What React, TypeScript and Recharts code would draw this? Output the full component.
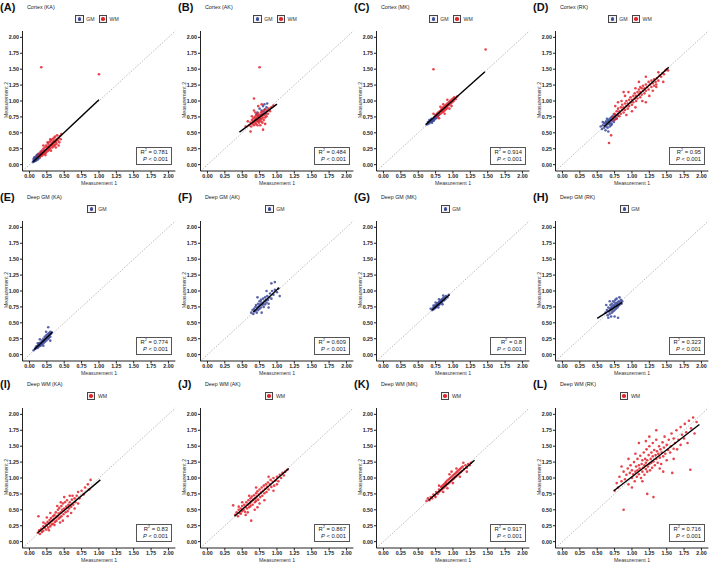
import { ScatterChart, Scatter, XAxis, YAxis, ReferenceLine } from "recharts"

type Pt = [number, number]

const GM_COLOR = "#3D4A9B"
const WM_COLOR = "#E3222C"
const FONT = "'Liberation Sans', Arial, sans-serif"

const axisTicks = [0, 0.25, 0.5, 0.75, 1, 1.25, 1.5, 1.75, 2]
const panelLabels = ["A", "B", "C", "D", "E", "F", "G", "H", "I", "J", "K", "L"]
const panelTitles = [
  "Cortex (KA)", "Cortex (AK)", "Cortex (MK)", "Cortex (RK)",
  "Deep GM (KA)", "Deep GM (AK)", "Deep GM (MK)", "Deep GM (RK)",
  "Deep WM (KA)", "Deep WM (AK)", "Deep WM (MK)", "Deep WM (RK)",
]
const r2Values = ["0.781", "0.484", "0.914", "0.95", "0.774", "0.609", "0.8", "0.323", "0.83", "0.867", "0.917", "0.716"]

// regression line end points
const fitLines: [Pt, Pt][] = [
  [[0.05, 0.04], [1.0, 1.02]],
  [[0.46, 0.51], [1.0, 0.95]],
  [[0.61, 0.63], [1.46, 1.46]],
  [[0.6, 0.6], [1.53, 1.53]],
  [[0.07, 0.08], [0.33, 0.35]],
  [[0.66, 0.67], [1.03, 1.05]],
  [[0.7, 0.7], [0.95, 0.94]],
  [[0.5, 0.57], [0.86, 0.82]],
  [[0.12, 0.14], [1.02, 0.97]],
  [[0.39, 0.4], [1.17, 1.15]],
  [[0.65, 0.65], [1.31, 1.28]],
  [[0.74, 0.8], [1.97, 1.84]],
]

const cortexKA_GM: Pt[] = [[0.05,0.04],[0.06,0.06],[0.07,0.05],[0.07,0.08],[0.08,0.07],[0.08,0.09],[0.09,0.08],[0.09,0.1],[0.1,0.09],[0.1,0.11],[0.11,0.1],[0.11,0.12],[0.12,0.11],[0.12,0.13],[0.13,0.12],[0.13,0.14],[0.14,0.13],[0.14,0.15],[0.15,0.14],[0.15,0.16],[0.16,0.15],[0.16,0.18],[0.17,0.16],[0.18,0.17],[0.19,0.19],[0.2,0.18],[0.06,0.09],[0.08,0.12],[0.1,0.14],[0.12,0.08],[0.14,0.1],[0.09,0.06],[0.11,0.15],[0.13,0.17],[0.17,0.2],[0.21,0.22],[0.07,0.11],[0.1,0.07],[0.15,0.12],[0.12,0.16]]
const cortexKA_WM: Pt[] = [[0.12,0.13],[0.14,0.17],[0.15,0.12],[0.16,0.2],[0.17,0.15],[0.18,0.22],[0.18,0.14],[0.19,0.18],[0.2,0.25],[0.2,0.16],[0.21,0.2],[0.22,0.27],[0.22,0.18],[0.23,0.22],[0.24,0.3],[0.24,0.19],[0.25,0.24],[0.25,0.28],[0.26,0.21],[0.27,0.26],[0.27,0.33],[0.28,0.23],[0.28,0.29],[0.29,0.36],[0.29,0.25],[0.3,0.31],[0.3,0.27],[0.31,0.38],[0.31,0.22],[0.32,0.3],[0.32,0.34],[0.33,0.27],[0.33,0.4],[0.34,0.32],[0.34,0.36],[0.35,0.29],[0.35,0.42],[0.36,0.35],[0.36,0.38],[0.37,0.31],[0.37,0.44],[0.38,0.36],[0.39,0.4],[0.39,0.33],[0.4,0.46],[0.41,0.38],[0.42,0.42],[0.43,0.35],[0.44,0.45],[0.46,0.48],[0.45,0.4],[0.26,0.35],[0.3,0.4],[0.23,0.15],[0.38,0.27],[0.42,0.3],[0.2,0.3],[0.17,1.53],[1.0,1.42]]

const cortexAK_GM: Pt[] = [[0.72,0.82],[0.75,0.88],[0.78,0.85],[0.8,0.92],[0.82,0.95],[0.85,0.9],[0.77,0.78],[0.74,0.76],[0.7,0.72],[0.83,0.87],[0.79,0.8],[0.68,0.7],[0.76,0.72],[0.81,0.83],[0.73,0.68],[0.86,0.96],[0.71,0.79],[0.84,0.8]]
const cortexAK_WM: Pt[] = [[0.6,0.62],[0.62,0.66],[0.63,0.6],[0.64,0.7],[0.65,0.64],[0.66,0.68],[0.66,0.73],[0.67,0.62],[0.68,0.66],[0.68,0.75],[0.69,0.7],[0.7,0.64],[0.7,0.78],[0.71,0.68],[0.71,0.73],[0.72,0.62],[0.72,0.76],[0.73,0.7],[0.73,0.8],[0.74,0.66],[0.74,0.74],[0.75,0.7],[0.75,0.78],[0.76,0.62],[0.76,0.74],[0.77,0.68],[0.77,0.82],[0.78,0.72],[0.78,0.77],[0.79,0.66],[0.79,0.84],[0.8,0.74],[0.8,0.79],[0.81,0.7],[0.82,0.78],[0.82,0.86],[0.83,0.74],[0.84,0.82],[0.85,0.76],[0.86,0.85],[0.87,0.8],[0.88,0.88],[0.9,0.84],[0.92,0.9],[0.95,0.93],[0.64,0.76],[0.69,0.82],[0.67,1.04],[0.58,0.68],[0.55,0.6],[0.83,0.64],[0.8,0.55],[0.62,0.52],[0.75,1.53],[0.78,0.95],[0.73,0.92],[0.67,0.85]]

const cortexMK_GM: Pt[] = [[0.62,0.63],[0.64,0.64],[0.65,0.66],[0.66,0.65],[0.67,0.68],[0.68,0.67],[0.68,0.7],[0.69,0.69],[0.7,0.68],[0.7,0.71],[0.71,0.7],[0.72,0.72],[0.72,0.69],[0.73,0.74],[0.74,0.72],[0.74,0.75],[0.75,0.74],[0.76,0.76],[0.76,0.73],[0.77,0.78],[0.78,0.76],[0.79,0.8],[0.8,0.78],[0.66,0.7],[0.7,0.66],[0.73,0.7],[0.75,0.78],[0.69,0.72],[0.64,0.67],[0.78,0.8]]
const cortexMK_WM: Pt[] = [[0.75,0.77],[0.77,0.8],[0.78,0.75],[0.79,0.82],[0.8,0.79],[0.81,0.84],[0.82,0.8],[0.83,0.86],[0.84,0.82],[0.84,0.88],[0.85,0.84],[0.86,0.9],[0.86,0.83],[0.87,0.87],[0.88,0.92],[0.88,0.85],[0.89,0.89],[0.9,0.94],[0.9,0.87],[0.91,0.91],[0.92,0.96],[0.92,0.89],[0.93,0.93],[0.94,0.98],[0.95,0.94],[0.96,1.0],[0.97,0.96],[0.98,1.02],[0.99,0.98],[1.0,1.04],[1.01,1.0],[1.02,1.06],[1.04,1.03],[1.06,1.07],[0.82,0.91],[0.86,0.95],[0.92,1.02],[0.8,0.73],[0.88,0.8],[0.95,0.88],[0.72,0.8],[0.98,0.92],[0.72,1.5],[1.47,1.81]]

const cortexRK_GM: Pt[] = [[0.55,0.6],[0.57,0.56],[0.58,0.62],[0.6,0.58],[0.6,0.65],[0.61,0.61],[0.62,0.66],[0.63,0.6],[0.63,0.68],[0.64,0.63],[0.65,0.67],[0.65,0.58],[0.66,0.7],[0.67,0.64],[0.67,0.68],[0.68,0.72],[0.68,0.6],[0.69,0.66],[0.7,0.7],[0.7,0.74],[0.71,0.64],[0.72,0.69],[0.72,0.76],[0.73,0.72],[0.74,0.67],[0.75,0.75],[0.76,0.71],[0.77,0.78],[0.78,0.73],[0.8,0.77],[0.62,0.54],[0.66,0.52],[0.58,0.67],[0.7,0.62],[0.74,0.79],[0.64,0.72]]
const cortexRK_WM: Pt[] = [[0.72,0.74],[0.74,0.7],[0.75,0.8],[0.76,0.76],[0.78,0.84],[0.78,0.72],[0.8,0.8],[0.8,0.88],[0.82,0.76],[0.82,0.84],[0.84,0.9],[0.84,0.8],[0.86,0.86],[0.86,0.94],[0.88,0.82],[0.88,0.9],[0.9,0.96],[0.9,0.86],[0.92,0.92],[0.92,1.0],[0.94,0.88],[0.94,0.96],[0.96,1.02],[0.96,0.92],[0.98,0.98],[0.98,1.06],[1.0,0.94],[1.0,1.02],[1.02,1.08],[1.02,0.98],[1.04,1.04],[1.04,1.12],[1.06,1.0],[1.06,1.08],[1.08,1.14],[1.08,1.04],[1.1,1.1],[1.1,1.18],[1.12,1.06],[1.12,1.14],[1.14,1.2],[1.14,1.1],[1.16,1.16],[1.16,1.24],[1.18,1.12],[1.18,1.2],[1.2,1.26],[1.2,1.16],[1.22,1.22],[1.24,1.3],[1.24,1.18],[1.26,1.26],[1.28,1.32],[1.28,1.22],[1.3,1.28],[1.32,1.34],[1.32,1.24],[1.34,1.3],[1.36,1.36],[1.38,1.32],[1.4,1.4],[1.42,1.38],[1.44,1.44],[1.46,1.42],[1.48,1.48],[1.5,1.5],[1.52,1.48],[0.85,1.0],[0.9,1.08],[0.95,1.14],[1.0,0.84],[1.05,0.9],[1.1,1.3],[1.15,1.0],[1.2,1.38],[1.25,1.08],[1.3,1.16],[1.35,1.22],[1.05,1.2],[0.8,0.98],[0.92,0.78],[1.38,1.45],[1.45,1.3],[1.2,0.98],[0.88,1.14],[0.76,0.92],[0.67,0.34],[0.7,0.46],[1.35,1.26],[1.12,1.22]]

const deepGmKA: Pt[] = [[0.08,0.09],[0.09,0.11],[0.1,0.1],[0.1,0.13],[0.11,0.12],[0.12,0.14],[0.12,0.11],[0.13,0.16],[0.14,0.13],[0.14,0.18],[0.15,0.15],[0.16,0.19],[0.16,0.14],[0.17,0.17],[0.18,0.22],[0.18,0.16],[0.19,0.2],[0.2,0.25],[0.2,0.18],[0.21,0.22],[0.22,0.28],[0.22,0.2],[0.23,0.25],[0.24,0.3],[0.24,0.22],[0.25,0.27],[0.26,0.32],[0.26,0.24],[0.27,0.29],[0.28,0.34],[0.28,0.26],[0.29,0.31],[0.3,0.36],[0.3,0.28],[0.31,0.33],[0.32,0.35],[0.27,0.43],[0.15,0.24],[0.2,0.14],[0.24,0.36],[0.3,0.22],[0.12,0.18],[0.06,0.07]]
const deepGmAK: Pt[] = [[0.63,0.66],[0.65,0.7],[0.66,0.64],[0.67,0.72],[0.68,0.68],[0.69,0.75],[0.7,0.7],[0.7,0.78],[0.71,0.66],[0.72,0.74],[0.73,0.8],[0.73,0.7],[0.74,0.76],[0.75,0.84],[0.75,0.72],[0.76,0.79],[0.77,0.86],[0.77,0.74],[0.78,0.82],[0.79,0.78],[0.8,0.88],[0.8,0.8],[0.81,0.75],[0.82,0.84],[0.83,0.9],[0.83,0.79],[0.84,0.86],[0.85,0.82],[0.86,0.92],[0.87,0.86],[0.88,0.8],[0.89,0.9],[0.9,0.96],[0.92,0.88],[0.93,1.0],[0.95,0.94],[0.97,1.02],[1.0,0.98],[1.02,1.04],[1.04,0.92],[0.92,1.12],[0.97,1.14],[0.72,0.9],[0.78,0.66],[0.85,1.0],[0.88,0.74]]
const deepGmMK: Pt[] = [[0.7,0.7],[0.71,0.73],[0.72,0.71],[0.73,0.75],[0.74,0.73],[0.74,0.77],[0.75,0.74],[0.76,0.78],[0.76,0.75],[0.77,0.8],[0.78,0.77],[0.78,0.81],[0.79,0.79],[0.8,0.83],[0.8,0.78],[0.81,0.82],[0.82,0.85],[0.82,0.8],[0.83,0.84],[0.84,0.87],[0.84,0.82],[0.85,0.86],[0.86,0.89],[0.87,0.85],[0.88,0.9],[0.89,0.87],[0.9,0.92],[0.92,0.9],[0.94,0.94],[0.75,0.82],[0.8,0.87],[0.85,0.79],[0.72,0.77],[0.86,0.93],[0.79,0.74],[0.68,0.72]]
const deepGmRK: Pt[] = [[0.62,0.66],[0.64,0.7],[0.65,0.62],[0.66,0.74],[0.67,0.68],[0.68,0.72],[0.68,0.64],[0.69,0.78],[0.7,0.7],[0.7,0.74],[0.71,0.66],[0.71,0.8],[0.72,0.72],[0.72,0.76],[0.73,0.68],[0.73,0.84],[0.74,0.74],[0.74,0.78],[0.75,0.7],[0.75,0.82],[0.76,0.76],[0.76,0.86],[0.77,0.72],[0.77,0.8],[0.78,0.78],[0.78,0.88],[0.79,0.74],[0.79,0.82],[0.8,0.8],[0.8,0.76],[0.81,0.84],[0.82,0.78],[0.83,0.82],[0.84,0.86],[0.85,0.8],[0.86,0.84],[0.66,0.58],[0.7,0.6],[0.75,0.6],[0.8,0.58],[0.63,0.78],[0.68,0.84],[0.82,0.9]]

const deepWmKA: Pt[] = [[0.12,0.14],[0.14,0.18],[0.15,0.12],[0.17,0.2],[0.18,0.15],[0.2,0.24],[0.2,0.17],[0.22,0.22],[0.23,0.28],[0.24,0.19],[0.25,0.25],[0.26,0.31],[0.27,0.22],[0.28,0.28],[0.29,0.34],[0.3,0.24],[0.3,0.3],[0.31,0.37],[0.32,0.27],[0.33,0.33],[0.34,0.4],[0.34,0.28],[0.35,0.35],[0.36,0.42],[0.37,0.31],[0.38,0.38],[0.38,0.46],[0.39,0.33],[0.4,0.4],[0.41,0.5],[0.42,0.36],[0.42,0.44],[0.43,0.53],[0.44,0.38],[0.45,0.46],[0.46,0.56],[0.46,0.4],[0.47,0.5],[0.48,0.6],[0.49,0.43],[0.5,0.52],[0.51,0.62],[0.52,0.46],[0.53,0.55],[0.54,0.65],[0.55,0.48],[0.56,0.58],[0.57,0.52],[0.58,0.62],[0.6,0.55],[0.61,0.66],[0.62,0.72],[0.63,0.58],[0.65,0.68],[0.66,0.62],[0.68,0.72],[0.7,0.78],[0.72,0.68],[0.75,0.8],[0.78,0.74],[0.8,0.85],[0.84,0.9],[0.88,0.97],[0.86,0.82],[0.55,0.4],[0.48,0.33],[0.4,0.56],[0.36,0.26],[0.3,0.45],[0.25,0.38],[0.6,0.45],[0.65,0.52],[0.45,0.62],[0.5,0.7],[0.2,0.3],[0.13,0.4],[0.7,0.6],[0.58,0.72],[0.28,0.18],[0.44,0.3]]
const deepWmAK: Pt[] = [[0.4,0.42],[0.42,0.46],[0.44,0.4],[0.45,0.5],[0.46,0.45],[0.48,0.52],[0.48,0.44],[0.5,0.48],[0.5,0.56],[0.52,0.5],[0.53,0.58],[0.54,0.47],[0.55,0.54],[0.56,0.62],[0.57,0.52],[0.58,0.58],[0.59,0.65],[0.6,0.54],[0.61,0.6],[0.62,0.68],[0.62,0.56],[0.63,0.63],[0.64,0.71],[0.65,0.58],[0.66,0.66],[0.67,0.73],[0.68,0.62],[0.69,0.68],[0.7,0.76],[0.7,0.64],[0.71,0.71],[0.72,0.79],[0.73,0.66],[0.74,0.74],[0.75,0.82],[0.76,0.7],[0.77,0.77],[0.78,0.85],[0.79,0.72],[0.8,0.8],[0.81,0.88],[0.82,0.76],[0.83,0.83],[0.84,0.9],[0.85,0.78],[0.86,0.86],[0.87,0.93],[0.88,0.82],[0.9,0.9],[0.91,0.97],[0.92,0.86],[0.94,0.94],[0.95,1.0],[0.96,0.88],[0.98,0.96],[1.0,1.02],[1.02,0.95],[1.04,1.05],[1.06,1.0],[1.08,1.08],[1.1,1.04],[1.12,1.1],[1.15,1.13],[0.37,0.57],[0.63,0.33],[0.55,0.42],[0.68,0.5],[0.6,0.72],[0.75,0.6],[0.82,0.65],[0.5,0.62],[0.7,0.85],[0.88,1.02],[0.95,0.8],[0.58,0.46],[0.72,0.54],[0.45,0.55],[1.0,0.9]]
const deepWmMK: Pt[] = [[0.62,0.64],[0.64,0.68],[0.66,0.65],[0.68,0.7],[0.7,0.68],[0.72,0.74],[0.74,0.72],[0.76,0.78],[0.78,0.75],[0.8,0.82],[0.8,0.78],[0.82,0.8],[0.83,0.86],[0.84,0.82],[0.85,0.88],[0.86,0.84],[0.87,0.9],[0.88,0.86],[0.89,0.92],[0.9,0.88],[0.9,0.94],[0.91,0.9],[0.92,0.96],[0.93,0.91],[0.94,0.98],[0.95,0.93],[0.96,1.0],[0.97,0.95],[0.98,1.02],[0.99,0.97],[1.0,1.04],[1.01,0.99],[1.02,1.06],[1.03,1.01],[1.04,1.08],[1.05,1.03],[1.06,1.1],[1.07,1.05],[1.08,1.12],[1.09,1.07],[1.1,1.14],[1.11,1.09],[1.12,1.16],[1.13,1.11],[1.14,1.18],[1.16,1.14],[1.18,1.2],[1.2,1.16],[1.22,1.22],[1.24,1.2],[1.26,1.24],[0.86,0.78],[0.92,0.84],[0.95,1.06],[1.0,0.92],[1.05,1.15],[1.1,1.02],[0.8,0.88],[1.15,1.24],[0.75,0.7],[1.2,1.1],[0.98,1.1]]
const deepWmRK: Pt[] = [[0.75,0.8],[0.78,0.92],[0.8,0.85],[0.82,1.02],[0.85,0.95],[0.88,1.1],[0.9,0.98],[0.92,1.05],[0.94,1.15],[0.95,0.9],[0.97,1.08],[0.98,1.2],[1.0,1.0],[1.0,1.12],[1.02,1.06],[1.03,1.25],[1.04,0.95],[1.05,1.1],[1.06,1.18],[1.07,1.02],[1.08,1.3],[1.08,1.12],[1.1,1.06],[1.1,1.2],[1.11,1.15],[1.12,1.35],[1.13,1.0],[1.14,1.22],[1.15,1.1],[1.15,1.28],[1.16,1.16],[1.17,1.4],[1.18,1.05],[1.18,1.2],[1.19,1.3],[1.2,1.14],[1.2,1.24],[1.21,1.45],[1.22,1.1],[1.22,1.28],[1.23,1.18],[1.24,1.36],[1.25,1.22],[1.25,1.5],[1.26,1.12],[1.27,1.3],[1.28,1.24],[1.28,1.4],[1.29,1.16],[1.3,1.34],[1.3,1.55],[1.31,1.26],[1.32,1.44],[1.33,1.2],[1.34,1.36],[1.35,1.3],[1.35,1.6],[1.36,1.42],[1.37,1.24],[1.38,1.38],[1.39,1.5],[1.4,1.32],[1.41,1.45],[1.42,1.22],[1.43,1.4],[1.44,1.56],[1.45,1.34],[1.46,1.48],[1.47,1.65],[1.48,1.38],[1.5,1.52],[1.5,1.28],[1.52,1.44],[1.53,1.6],[1.55,1.4],[1.56,1.5],[1.57,1.7],[1.58,1.08],[1.6,1.46],[1.6,1.62],[1.62,1.55],[1.64,1.75],[1.65,1.45],[1.67,1.6],[1.7,1.8],[1.7,1.52],[1.72,1.68],[1.75,1.62],[1.76,1.85],[1.78,1.72],[1.8,1.55],[1.82,1.9],[1.84,1.13],[1.85,1.78],[1.88,1.95],[1.9,1.7],[1.93,1.88],[0.88,0.5],[1.31,0.7],[1.22,0.75],[1.0,0.85],[1.1,1.55],[1.25,1.65],[0.95,1.3],[1.4,1.15],[1.15,0.95],[1.45,1.1],[1.6,1.3],[1.35,1.75],[0.85,1.18],[1.05,1.38],[1.2,1.58]]

const gmSets: (Pt[] | null)[] = [cortexKA_GM, cortexAK_GM, cortexMK_GM, cortexRK_GM, deepGmKA, deepGmAK, deepGmMK, deepGmRK, null, null, null, null]
const wmSets: (Pt[] | null)[] = [cortexKA_WM, cortexAK_WM, cortexMK_WM, cortexRK_WM, null, null, null, null, deepWmKA, deepWmAK, deepWmMK, deepWmRK]

const colLeft = [0, 178, 354, 533]
const rowTop = [0, 190, 377]

const toXY = (a: Pt[]) => a.map(([x, y]) => ({ x, y }))

const dot = (color: string) => (props: any) =>
  <circle cx={props.cx} cy={props.cy} r={1.3} fill={color} fillOpacity={0.85} />

const LegendKey = ({ color, name }: { color: string; name: string }) => (
  <div style={{ display: 'flex', alignItems: 'center', marginRight: 4 }}>
    <div style={{ width: 6.5, height: 6.5, border: '1px solid #444', background: '#f2f2f2', display: 'flex', alignItems: 'center', justifyContent: 'center' }}>
      <div style={{ width: 3.5, height: 3.5, borderRadius: '50%', background: color }} />
    </div>
    <span style={{ fontSize: 5.2, color: '#333', marginLeft: 2.5 }}>{name}</span>
  </div>
)

const Panel = ({ i }: { i: number }) => {
  const gm = gmSets[i]
  const wm = wmSets[i]
  const fit = fitLines[i]
  const tickStyle = { fontSize: 5.3, fontWeight: 'bold' as const, fill: '#222', fontFamily: FONT }
  return (
    <div style={{ position: 'absolute', left: colLeft[i % 4], top: rowTop[Math.floor(i / 4)], width: 177, height: 188, fontFamily: FONT }}>
      <div style={{ position: 'absolute', left: 0, top: 1, fontSize: 11, fontWeight: 'bold', color: '#111', lineHeight: '12px' }}>({panelLabels[i]})</div>
      <div style={{ position: 'absolute', left: 27, top: 4, fontSize: 5.3, color: '#222', lineHeight: '6px' }}>{panelTitles[i]}</div>
      <div style={{ position: 'absolute', left: 22, width: 154, top: 15, height: 8, display: 'flex', justifyContent: 'center', alignItems: 'center' }}>
        {gm && <LegendKey color={GM_COLOR} name="GM" />}
        {wm && <LegendKey color={WM_COLOR} name="WM" />}
      </div>
      <ScatterChart width={177} height={188} margin={{ top: 31, right: 1.6, bottom: 0, left: 0 }}>
        <XAxis type="number" dataKey="x" domain={[-0.1, 2.1]} ticks={axisTicks} interval={0}
          tickFormatter={(v: number) => v.toFixed(2)} height={17} tick={tickStyle}
          tickSize={2.5} tickMargin={1} stroke="#222" allowDataOverflow />
        <YAxis type="number" dataKey="y" domain={[-0.1, 2.1]} ticks={axisTicks} interval={0}
          tickFormatter={(v: number) => v.toFixed(2)} width={22.5} tick={tickStyle}
          tickSize={2.5} tickMargin={1} stroke="#222" allowDataOverflow />
        <ReferenceLine segment={[{ x: -0.1, y: -0.1 }, { x: 2.1, y: 2.1 }]} stroke="#aaa" strokeWidth={0.8} strokeDasharray="1.5 1.5" />
        {gm && <Scatter data={toXY(gm)} fill={GM_COLOR} shape={dot(GM_COLOR)} isAnimationActive={false} />}
        {wm && <Scatter data={toXY(wm)} fill={WM_COLOR} shape={dot(WM_COLOR)} isAnimationActive={false} />}
        <Scatter data={toXY(fit)} line={{ stroke: '#000', strokeWidth: 1.4 }} shape={() => <g />} isAnimationActive={false} />
      </ScatterChart>
      <div style={{ position: 'absolute', left: 6, top: 100, transform: 'translate(-50%,-50%) rotate(-90deg)', fontSize: 5.2, color: '#333', whiteSpace: 'nowrap', lineHeight: '6px' }}>Measurement 2</div>
      <div style={{ position: 'absolute', left: 22, width: 154, top: 180, textAlign: 'center', fontSize: 5.2, color: '#333', lineHeight: '6px' }}>Measurement 1</div>
      <div style={{ position: 'absolute', left: 136, top: 146.5, width: 31, height: 15.5, border: '1.3px solid #555', fontSize: 5.8, color: '#222', textAlign: 'right', paddingRight: 3, boxSizing: 'content-box', lineHeight: '7.5px', paddingTop: 1 }}>
        <div>R<sup style={{ fontSize: 4, lineHeight: 0 }}>2</sup> = {r2Values[i]}</div>
        <div><i>P</i> &lt; 0.001</div>
      </div>
    </div>
  )
}

export default function App() {
  return (
    <div style={{ position: 'absolute', left: 0, top: 0, width: 709, height: 567, background: '#fff' }}>
      {panelLabels.map((_, i) => <Panel key={i} i={i} />)}
    </div>
  )
}
